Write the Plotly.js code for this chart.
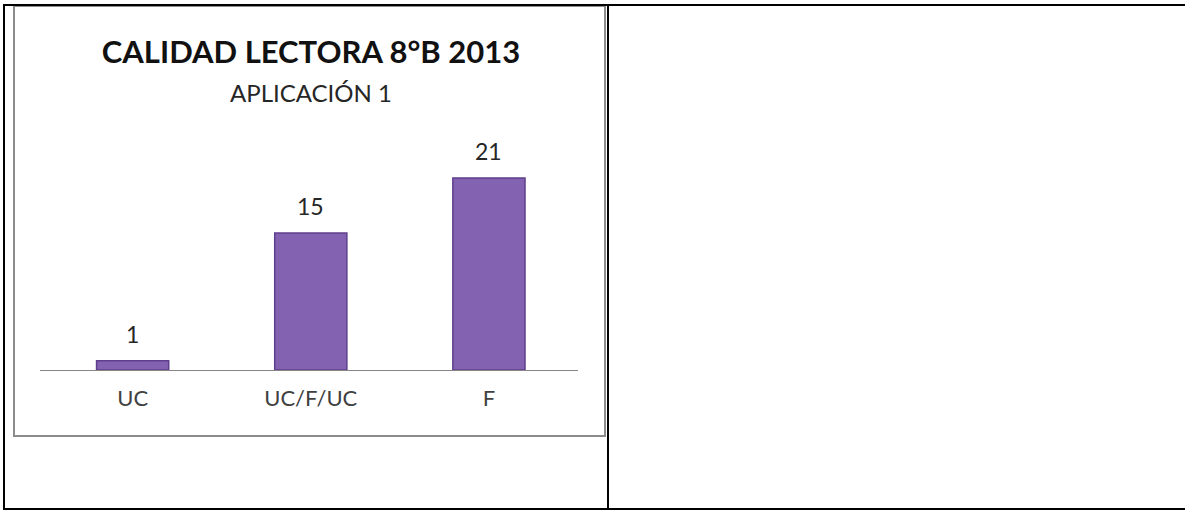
<!DOCTYPE html>
<html>
<head>
<meta charset="utf-8">
<script src="https://cdn.plot.ly/plotly-3.0.1.min.js"></script>
<style>html,body{margin:0;padding:0;background:#fff;}#chart{width:1185px;height:510px;}</style>
</head>
<body>
<div id="chart"></div>
<script>
const categories = ['UC', 'UC/F/UC', 'F'];
const values = [1, 15, 21];
const titleText = 'CALIDAD LECTORA 8°B 2013';
const subtitleText = 'APLICACIÓN 1';

const W = 1185, H = 510;
const L = 40, R = 578, T = 140, B = 370;
const px = x => (x - L) / (R - L);
const py = y => (B - y) / (B - T);
const FONT = 'Lato, "Open Sans", sans-serif';

function line(x0, y0, x1, y1, color, width) {
  return {type: 'line', xref: 'paper', yref: 'paper', x0: px(x0), y0: py(y0), x1: px(x1), y1: py(y1),
          line: {color: color, width: width}, layer: 'above'};
}

const shapes = [
  {type: 'rect', xref: 'paper', yref: 'paper', x0: px(14), y0: py(6), x1: px(605), y1: py(436),
   line: {color: '#8c8c8c', width: 2}, fillcolor: 'rgba(0,0,0,0)', layer: 'below'},
  line(3, 5, 1185, 5, '#000', 2),
  line(3, 509, 1185, 509, '#000', 2),
  line(4, 4, 4, 510, '#000', 2),
  line(608, 4, 608, 510, '#000', 2)
];

const annotations = [
  {xref: 'paper', yref: 'paper', x: px(311), y: py(92), xanchor: 'center', yanchor: 'middle',
   text: subtitleText, showarrow: false, font: {family: FONT, size: 24, color: '#262626'}}
].concat(categories.map((c, i) => ({
  x: c, y: values[i], xref: 'x', yref: 'y', text: String(values[i]), showarrow: false,
  yanchor: 'middle', yshift: 27, font: {family: FONT, size: 23, color: '#262626'}
})));

const data = [{
  type: 'bar', x: categories, y: values,
  marker: {color: '#8462b2', line: {color: '#5d3f8c', width: 1.5}},
  hoverinfo: 'none'
}];

const layout = {
  width: W, height: H,
  margin: {l: L, r: W - R, t: T, b: H - B, pad: 0},
  paper_bgcolor: '#fff', plot_bgcolor: 'rgba(0,0,0,0)',
  showlegend: false,
  bargap: 0.595,
  title: {text: '<b>' + titleText + '</b>', font: {family: FONT, size: 31, color: '#111'},
          xref: 'paper', x: px(311), xanchor: 'center', yref: 'container', y: 1 - 52 / H, yanchor: 'middle'},
  xaxis: {type: 'category', range: [-0.52, 2.5], showline: true, linecolor: '#868686', linewidth: 1,
          showgrid: false, zeroline: false, ticks: '', ticklabelstandoff: 9,
          tickfont: {family: FONT, size: 22, color: '#404040'}, fixedrange: true},
  yaxis: {range: [0, 25.16], visible: false, showgrid: false, zeroline: false, fixedrange: true},
  shapes: shapes,
  annotations: annotations
};

Plotly.newPlot('chart', data, layout, {displayModeBar: false, staticPlot: true});
</script>
</body>
</html>
